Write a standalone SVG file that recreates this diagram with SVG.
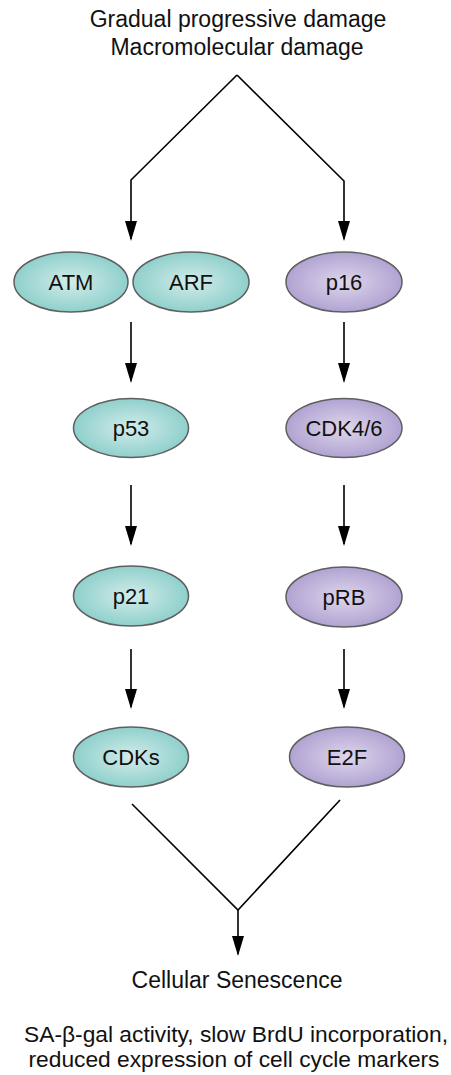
<svg xmlns="http://www.w3.org/2000/svg" width="451" height="1075" viewBox="0 0 451 1075">
<defs>
<radialGradient id="gTeal" cx="50%" cy="50%" r="50%">
<stop offset="0" stop-color="#d3ecea"/>
<stop offset="1" stop-color="#8fd0cc"/>
</radialGradient>
<radialGradient id="gPurple" cx="50%" cy="50%" r="50%">
<stop offset="0" stop-color="#ded6ec"/>
<stop offset="1" stop-color="#b1a3d2"/>
</radialGradient>
<marker id="arr" markerUnits="userSpaceOnUse" markerWidth="20" markerHeight="12" refX="18" refY="6" orient="auto">
<path d="M0,0 L20,6 L0,12 z" fill="#000"/>
</marker>
<style>
.lbl{font-family:"Liberation Sans",Arial,sans-serif;font-size:23px;fill:#111;text-anchor:middle}
.sm{font-family:"Liberation Sans",Arial,sans-serif;font-size:21.5px;fill:#111;text-anchor:middle}
.nt{font-family:"Liberation Sans",Arial,sans-serif;font-size:22px;fill:#111;text-anchor:middle}
.teal{fill:url(#gTeal);stroke:#5f5f5f;stroke-width:1.5}
.purple{fill:url(#gPurple);stroke:#5f5f5f;stroke-width:1.5}
.c{fill:none;stroke:#000;stroke-width:1.6}
.a{fill:none;stroke:#000;stroke-width:1.6;marker-end:url(#arr)}
</style>
</defs>
<g id="top-label">
<text class="lbl" x="238" y="27">Gradual progressive damage</text>
<text class="lbl" x="237" y="55">Macromolecular damage</text>
</g>
<g id="connectors">
<path class="a" d="M237,75 L131,180 L131,239"/>
<path class="a" d="M237,75 L344,181 L344,239"/>
<path class="a" d="M131,322 L131,381"/>
<path class="a" d="M344,322 L344,381"/>
<path class="a" d="M131,485 L131,544"/>
<path class="a" d="M344,485 L344,544"/>
<path class="a" d="M131,649 L131,707"/>
<path class="a" d="M344,649 L344,707"/>
<path class="c" d="M132,804 L238,910 L340,800"/>
<path class="a" d="M238,910 L238,954"/>
</g>
<g id="ATM"><ellipse class="teal" cx="71" cy="282" rx="57" ry="30"/><text class="nt" x="71" y="290">ATM</text></g>
<g id="ARF"><ellipse class="teal" cx="191" cy="282" rx="58" ry="30"/><text class="nt" x="191" y="290">ARF</text></g>
<g id="p16"><ellipse class="purple" cx="344" cy="282" rx="58" ry="30"/><text class="nt" x="344" y="290">p16</text></g>
<g id="p53"><ellipse class="teal" cx="131" cy="428" rx="57.5" ry="29.5"/><text class="nt" x="131" y="436">p53</text></g>
<g id="CDK4-6"><ellipse class="purple" cx="344" cy="428" rx="58" ry="29.5"/><text class="nt" x="344" y="436">CDK4/6</text></g>
<g id="p21"><ellipse class="teal" cx="131" cy="596" rx="57.5" ry="30"/><text class="nt" x="131" y="604">p21</text></g>
<g id="pRB"><ellipse class="purple" cx="344" cy="597" rx="58" ry="30"/><text class="nt" x="344" y="605">pRB</text></g>
<g id="CDKs"><ellipse class="teal" cx="131" cy="757" rx="57.5" ry="30"/><text class="nt" x="131" y="765">CDKs</text></g>
<g id="E2F"><ellipse class="purple" cx="347" cy="757" rx="57.5" ry="30"/><text class="nt" x="347" y="765">E2F</text></g>
<g id="senescence">
<text class="lbl" x="237" y="988">Cellular Senescence</text>
</g>
<g id="markers">
<text class="sm" x="236" y="1042" textLength="424" lengthAdjust="spacingAndGlyphs">SA-β-gal activity, slow BrdU incorporation,</text>
<text class="sm" x="234" y="1066.5" textLength="411" lengthAdjust="spacingAndGlyphs">reduced expression of cell cycle markers</text>
</g>
</svg>
